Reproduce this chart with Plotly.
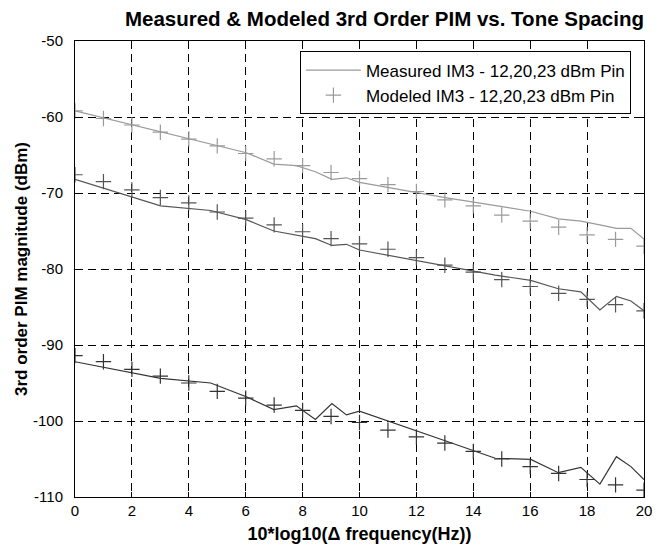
import plotly.graph_objects as go

# Measured points: x = 10*log10(delta f) for delta f = 1..10, 20..100 Hz
x_meas = [0, 3.01, 4.77, 6.02, 6.99, 7.78, 8.45, 9.03, 9.54, 10,
          13.01, 14.77, 16.02, 16.99, 17.78, 18.45, 19.03, 19.54, 20]
meas_23 = [-59.2, -62.0, -63.6, -64.7, -66.2, -66.4, -67.2, -68.2, -68.0, -68.6,
           -70.6, -71.6, -72.4, -73.4, -73.7, -74.2, -74.65, -74.65, -76.05]
meas_20 = [-68.2, -71.7, -72.3, -73.5, -75.0, -75.5, -76.0, -76.9, -76.75, -77.5,
           -79.6, -80.8, -81.5, -82.6, -83.0, -85.4, -83.6, -84.2, -85.5]
meas_12 = [-92.2, -94.4, -95.0, -96.8, -98.5, -98.0, -99.8, -97.7, -99.2, -98.7,
           -102.6, -104.9, -105.05, -106.8, -106.1, -108.3, -104.7, -106.0, -107.7]

x_mod = list(range(0, 21))
mod_23 = [-59.2, -60.2, -61.05, -62.0, -62.9, -63.8, -64.8, -65.5, -66.4, -67.3, -68.1,
          -68.9, -69.8, -70.9, -71.7, -72.9, -73.7, -74.5, -75.5, -76.1, -77.0]
mod_20 = [-67.6, -68.5, -69.6, -70.6, -71.3, -72.5, -73.3, -74.2, -75.1, -76.0, -76.7,
          -77.4, -78.5, -79.5, -80.4, -81.4, -82.3, -83.2, -84.0, -84.7, -85.5]
mod_12 = [-91.4, -92.2, -93.2, -94.1, -95.0, -96.1, -97.0, -97.9, -98.6, -99.4, -100.2,
          -101.2, -102.1, -102.9, -104.0, -105.0, -106.0, -106.9, -107.7, -108.4, -109.1]

x_ticks = list(range(0, 21, 2))
y_ticks = list(range(-110, -49, 10))
y_tick_labels = [str(v) for v in y_ticks]   # plain hyphen minus like the original

legend_meas = "Measured IM3 - 12,20,23 dBm Pin"
legend_mod = "Modeled IM3 - 12,20,23 dBm Pin"

FONT = "Arial, Liberation Sans, Helvetica, sans-serif"

fig = go.Figure()
series = [(meas_23, mod_23, "#9a9a9a", True),
          (meas_20, mod_20, "#555555", False),
          (meas_12, mod_12, "#333333", False)]
for meas, mod, col, show in series:
    fig.add_trace(go.Scatter(x=x_meas, y=meas, mode="lines", name=legend_meas,
                             line=dict(color=col, width=1.2), showlegend=show,
                             legendgroup="meas"))
for meas, mod, col, show in series:
    fig.add_trace(go.Scatter(x=x_mod, y=mod, mode="markers", name=legend_mod,
                             marker=dict(symbol="cross-thin", size=11,
                                         line=dict(color=col, width=1.2), color=col),
                             showlegend=show, legendgroup="mod"))

axis_common = dict(showline=True, linecolor="black", linewidth=1, mirror="ticks",
                   ticks="inside", ticklen=5, tickcolor="black",
                   showgrid=True, gridcolor="black", griddash="8px,5px", gridwidth=1,
                   zeroline=False, automargin=False,
                   tickfont=dict(family=FONT, size=15, color="black"))

# the page body has an 8px margin, so the figure is sized to fit inside the window
fig.update_layout(
    width=657, height=541,
    paper_bgcolor="white", plot_bgcolor="white",
    margin=dict(l=67, r=21, t=33, b=52),
    title=dict(text="<b>Measured & Modeled 3rd Order PIM vs. Tone Spacing</b>",
               x=0.573, xref="container", xanchor="center", y=0.994, yref="container",
               yanchor="top", pad=dict(t=0, b=0, l=0, r=0),
               font=dict(family=FONT, size=20.5, color="black"), automargin=False),
    xaxis=dict(range=[0, 20], tickvals=x_ticks, **axis_common,
               title=dict(text="<b>10*log10(Δ frequency(Hz))</b>", standoff=9,
                          font=dict(family=FONT, size=18, color="black"))),
    yaxis=dict(range=[-110, -50], tickvals=y_ticks, ticktext=y_tick_labels,
               ticklabelstandoff=8, **axis_common,
               title=dict(text="<b>3rd order PIM magnitude (dBm)</b>", standoff=1,
                          font=dict(family=FONT, size=17, color="black"))),
    legend=dict(x=0.977, y=0.977, xanchor="right", yanchor="top",
                bgcolor="white", bordercolor="black", borderwidth=1,
                font=dict(family=FONT, size=17, color="black"),
                tracegroupgap=0, itemwidth=55),
    showlegend=True,
)

fig.write_html("out.html")
